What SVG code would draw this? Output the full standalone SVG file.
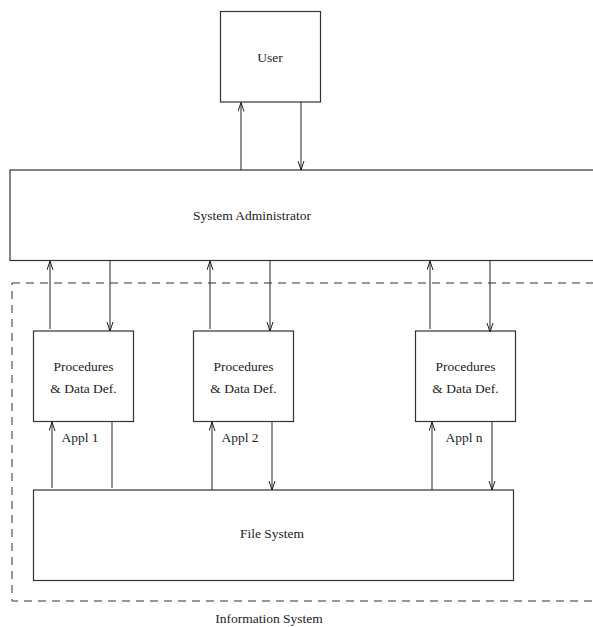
<svg xmlns="http://www.w3.org/2000/svg" width="593" height="627" viewBox="0 0 593 627">
  <style>
    .box { fill: #fff; stroke: #333; stroke-width: 1.2; }
    .frame { fill: none; stroke: #333; stroke-width: 1; stroke-dasharray: 8 6; }
    .link { fill: none; stroke: #222; stroke-width: 1; }
    .arr { marker-end: url(#head); }
    text { font-family: "Liberation Serif", "Times New Roman", serif; font-size: 13.5px; fill: #222; text-anchor: middle; }
  </style>
  <defs>
    <marker id="head" markerUnits="userSpaceOnUse" markerWidth="10" markerHeight="8" refX="9" refY="3.5" orient="auto">
      <path d="M0,0.5 L9,3.5 L0,6.5" fill="none" stroke="#222" stroke-width="1"/>
    </marker>
  </defs>

  <rect width="593" height="627" fill="#fff"/>

  <!-- information system boundary -->
  <g id="information-system">
    <rect class="frame" x="12" y="283" width="600" height="318"/>
    <text x="269" y="623">Information System</text>
  </g>

  <g id="user">
    <rect class="box" x="220.5" y="11.5" width="100" height="90.5"/>
    <text x="270" y="62">User</text>
  </g>

  <g id="system-administrator">
    <rect class="box" x="10" y="170" width="600" height="90.5"/>
    <text x="252" y="220">System Administrator</text>
  </g>

  <g id="appl-1">
    <rect class="box" x="33.5" y="331" width="100" height="90.5"/>
    <text x="83.5" y="371">Procedures</text>
    <text x="83.5" y="393">&amp; Data Def.</text>
    <text x="80" y="442">Appl 1</text>
  </g>

  <g id="appl-2">
    <rect class="box" x="193.5" y="331" width="100" height="90.5"/>
    <text x="243.5" y="371">Procedures</text>
    <text x="243.5" y="393">&amp; Data Def.</text>
    <text x="240" y="442">Appl 2</text>
  </g>

  <g id="appl-n">
    <rect class="box" x="415.5" y="331" width="100" height="90.5"/>
    <text x="465.5" y="371">Procedures</text>
    <text x="465.5" y="393">&amp; Data Def.</text>
    <text x="464" y="442">Appl n</text>
  </g>

  <g id="file-system">
    <rect class="box" x="33.5" y="490" width="480" height="90.5"/>
    <text x="272" y="538">File System</text>
  </g>

  <g id="connectors">
    <!-- user <-> administrator -->
    <line class="link arr" x1="241" y1="170" x2="241" y2="102.5"/>
    <line class="link arr" x1="301" y1="102" x2="301" y2="170"/>

    <!-- administrator <-> applications -->
    <line class="link arr" x1="50" y1="329" x2="50" y2="261"/>
    <line class="link arr" x1="110" y1="261" x2="110" y2="331"/>
    <line class="link arr" x1="210" y1="329" x2="210" y2="261"/>
    <line class="link arr" x1="270" y1="261" x2="270" y2="331"/>
    <line class="link arr" x1="430" y1="329" x2="430" y2="261"/>
    <line class="link arr" x1="490" y1="261" x2="490" y2="332"/>

    <!-- applications <-> file system -->
    <line class="link arr" x1="52" y1="488" x2="52" y2="422"/>
    <line class="link" x1="112" y1="422" x2="112" y2="488"/>
    <line class="link arr" x1="212" y1="490" x2="212" y2="422"/>
    <line class="link arr" x1="272" y1="422" x2="272" y2="490"/>
    <line class="link arr" x1="432" y1="490" x2="432" y2="422"/>
    <line class="link arr" x1="492" y1="422" x2="492" y2="490"/>
  </g>
</svg>
